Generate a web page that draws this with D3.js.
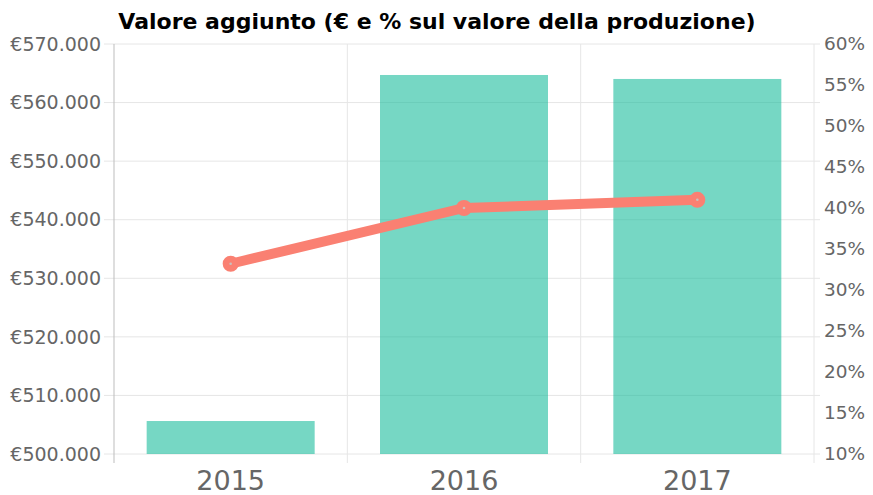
<!DOCTYPE html>
<html>
<head>
<meta charset="utf-8">
<script src="https://cdn.jsdelivr.net/npm/d3@7"></script>
<style>
  body { margin: 0; background: #fff; }
  svg { display: block; font-family: "DejaVu Sans", sans-serif; }
</style>
</head>
<body>
<div id="chart"></div>
<script>
// data
var years = ["2015", "2016", "2017"];
var valoreAggiunto = [505630, 564710, 564030];
var percentuale = [33.2, 40.0, 41.0];
var leftTicks = [500000, 510000, 520000, 530000, 540000, 550000, 560000, 570000];
var rightTicks = [10, 15, 20, 25, 30, 35, 40, 45, 50, 55, 60];

var W = 873, H = 495;
var margin = { top: 44, right: 59, bottom: 41, left: 114 },
    width = W - margin.left - margin.right,
    height = H - margin.top - margin.bottom;

var svg = d3.select("#chart")
    .append("svg")
    .attr("width", W)
    .attr("height", H);

// title
svg.append("text")
    .attr("x", 437)
    .attr("y", 29)
    .attr("text-anchor", "middle")
    .style("font-size", "22px")
    .style("font-weight", "bold")
    .style("fill", "#000")
    .text("Valore aggiunto (€ e % sul valore della produzione)");

var g = svg.append("g")
    .attr("transform", "translate(" + margin.left + "," + margin.top + ")");

var x = d3.scaleBand()
    .domain(years)
    .range([0, width]);

var y = d3.scaleLinear()
    .domain([500000, 570000])
    .range([height, 0]);

var y2 = d3.scaleLinear()
    .domain([10, 60])
    .range([height, 0]);

var fmtEuro = function (d) { return "€" + d3.format(",")(d).replace(/,/g, "."); };

// horizontal grid + left ticks
g.append("g")
    .selectAll("line")
    .data(leftTicks)
    .enter().append("line")
    .attr("x1", -10)
    .attr("x2", width + 6)
    .attr("y1", function (d) { return y(d); })
    .attr("y2", function (d) { return y(d); })
    .attr("stroke", "#e6e6e6")
    .attr("stroke-width", 1);

// vertical grid at category boundaries
var bounds = years.map(function (d) { return x(d); }).concat([width]);
g.append("g")
    .selectAll("line")
    .data(bounds)
    .enter().append("line")
    .attr("x1", function (d) { return d; })
    .attr("x2", function (d) { return d; })
    .attr("y1", 0)
    .attr("y2", height + 9)
    .attr("stroke", function (d, i) { return i == 0 ? "#bdbdbd" : "#e6e6e6"; })
    .attr("stroke-width", 1);

// left axis labels
g.append("g")
    .selectAll("text")
    .data(leftTicks)
    .enter().append("text")
    .attr("x", -13)
    .attr("y", function (d) { return y(d); })
    .attr("dy", "0.35em")
    .attr("text-anchor", "end")
    .style("font-size", "19px")
    .style("fill", "#666")
    .text(fmtEuro);

// right axis labels
g.append("g")
    .selectAll("text")
    .data(rightTicks)
    .enter().append("text")
    .attr("x", width + 10)
    .attr("y", function (d) { return y2(d); })
    .attr("dy", "0.35em")
    .attr("text-anchor", "start")
    .style("font-size", "18.5px")
    .style("fill", "#666")
    .text(function (d) { return d + "%"; });

// x labels
g.append("g")
    .selectAll("text")
    .data(years)
    .enter().append("text")
    .attr("x", function (d) { return x(d) + x.bandwidth() / 2; })
    .attr("y", height + 36)
    .attr("text-anchor", "middle")
    .style("font-size", "27px")
    .style("fill", "#666")
    .text(function (d) { return d; });

// bars
var barW = x.bandwidth() * 0.72;
g.append("g")
    .selectAll("rect")
    .data(valoreAggiunto)
    .enter().append("rect")
    .attr("x", function (d, i) { return x(years[i]) + (x.bandwidth() - barW) / 2; })
    .attr("width", barW)
    .attr("y", function (d) { return y(d); })
    .attr("height", function (d) { return height - y(d); })
    .style("fill", "rgba(26,188,156,0.6)");

// line
var line = d3.line()
    .x(function (d, i) { return x(years[i]) + x.bandwidth() / 2; })
    .y(function (d) { return y2(d); });

g.append("path")
    .datum(percentuale)
    .attr("d", line)
    .attr("fill", "none")
    .attr("stroke", "#fa8072")
    .attr("stroke-width", 10)
    .attr("stroke-linejoin", "round");

g.append("g")
    .selectAll("circle")
    .data(percentuale)
    .enter().append("circle")
    .attr("cx", function (d, i) { return x(years[i]) + x.bandwidth() / 2; })
    .attr("cy", function (d) { return y2(d); })
    .attr("r", 5)
    .attr("fill", "#fa8072")
    .attr("stroke", "#fa8072")
    .attr("stroke-width", 6);

g.append("g")
    .selectAll("circle")
    .data(percentuale)
    .enter().append("circle")
    .attr("cx", function (d, i) { return x(years[i]) + x.bandwidth() / 2; })
    .attr("cy", function (d) { return y2(d); })
    .attr("r", 1.3)
    .attr("fill", "#c9c0bd");
</script>
</body>
</html>
